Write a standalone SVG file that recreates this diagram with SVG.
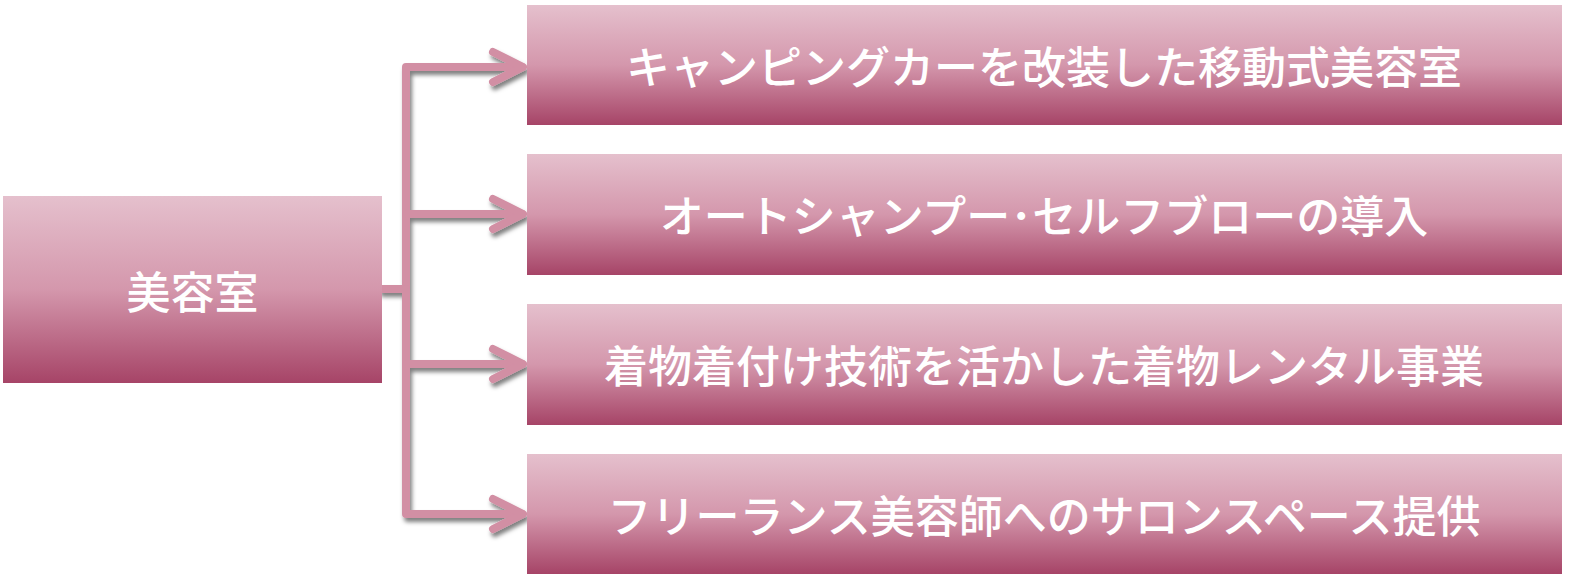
<svg xmlns="http://www.w3.org/2000/svg" width="1569" height="579" viewBox="0 0 1569 579">
<defs>
<linearGradient id="g" x1="0" y1="0" x2="0" y2="1">
<stop offset="0" stop-color="#E5C0CD"/>
<stop offset="0.5" stop-color="#D497AC"/>
<stop offset="1" stop-color="#A64467"/>
</linearGradient>
<filter id="sh" x="-20%" y="-20%" width="140%" height="140%">
<feDropShadow dx="2" dy="4" stdDeviation="2" flood-color="#000" flood-opacity="0.5"/>
</filter>
<style>
.box{fill:url(#g);}
.t{font-family:"Noto Sans CJK JP","Noto Sans",sans-serif;font-size:44px;font-weight:500;fill:#fff;text-anchor:middle;dominant-baseline:central;}
.c{fill:none;stroke:#D28FA4;stroke-width:8;stroke-linejoin:round;stroke-linecap:round;}
</style>
</defs>
<g id="connectors" filter="url(#sh)">
<path class="c" d="M382,289 H406 V67 H522"/>
<path class="c" d="M406,214 H522"/>
<path class="c" d="M406,289 V514 H522"/>
<path class="c" d="M406,364 H522"/>
<path class="c" d="M493,52 L523,67 L493,82"/>
<path class="c" d="M493,199 L523,214 L493,229"/>
<path class="c" d="M493,349 L523,364 L493,379"/>
<path class="c" d="M493,499 L523,514 L493,529"/>
</g>
<g id="root">
<rect class="box" x="3" y="196" width="379" height="187"/>
<text class="t" x="192.5" y="289.5">美容室</text>
</g>
<g id="n1">
<rect class="box" x="527" y="5" width="1035" height="120"/>
<text class="t" x="1044" y="65">キャンピングカーを改装した移動式美容室</text>
</g>
<g id="n2">
<rect class="box" x="527" y="154" width="1035" height="121"/>
<text class="t" x="1044" y="214">オートシャンプー･セルフブローの導入</text>
</g>
<g id="n3">
<rect class="box" x="527" y="304" width="1035" height="121"/>
<text class="t" x="1044" y="364">着物着付け技術を活かした着物レンタル事業</text>
</g>
<g id="n4">
<rect class="box" x="527" y="454" width="1035" height="120"/>
<text class="t" x="1044" y="514">フリーランス美容師へのサロンスペース提供</text>
</g>
</svg>
